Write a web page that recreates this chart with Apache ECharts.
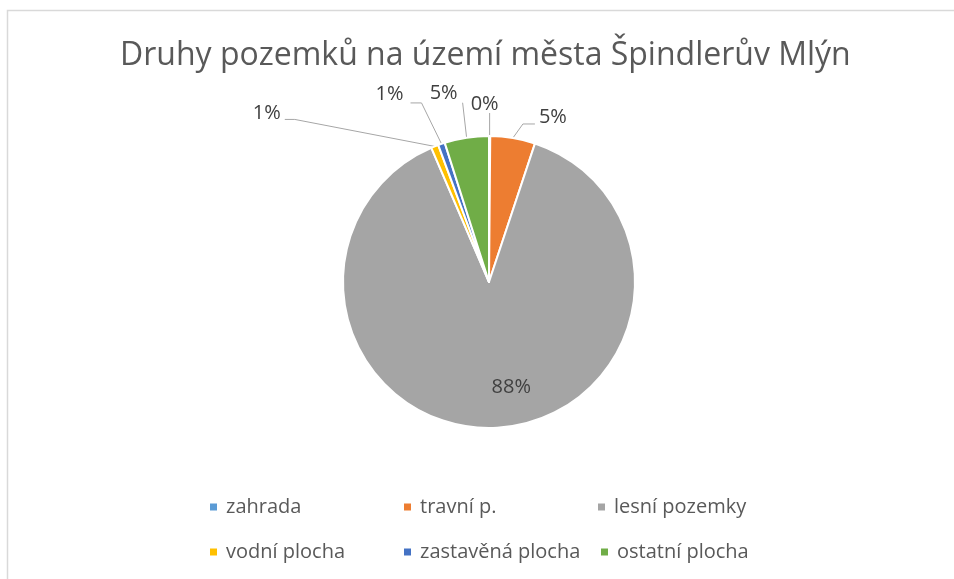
<!DOCTYPE html>
<html>
<head>
<meta charset="utf-8">
<script src="https://cdn.jsdelivr.net/npm/echarts@6/dist/echarts.min.js"></script>
<style>
  html, body { margin: 0; padding: 0; background: #fff; }
  #chart { width: 954px; height: 579px; }
</style>
</head>
<body>
<div id="chart"></div>
<script>
// Land use categories and their areas (ha)
const categories = ['zahrada', 'travní p.', 'lesní pozemky', 'vodní plocha', 'zastavěná plocha', 'ostatní plocha'];
const areas = [10, 365, 6500, 60, 55, 360];
const sliceColors = ['#5B9BD5', '#ED7D31', '#A5A5A5', '#FFC000', '#4472C4', '#70AD47'];
const titleText = 'Druhy pozemků na území města Špindlerův Mlýn';

const FONT = '"Open Sans", Lato, sans-serif';
const chart = echarts.init(document.getElementById('chart'), null, { renderer: 'canvas' });

// Leader-line and label placement relative to the slice edge point
// bend/end: offsets of the leader line; label: offset of text anchor
const outsideLabels = {
  0: { bend: [0, -11], end: [0, -23], label: [-5, -32], align: 'center' },
  1: { bend: [10, -14], end: [22, -14], label: [26, -21], align: 'left' },
  3: { bend: [-140, -27], end: [-150, -27], label: [-154, -33], align: 'right' },
  4: { bend: [-20, -41], end: [-31, -41], label: [-38, -50], align: 'right' },
  5: { bend: [-4, -35], end: [-4, -35], label: [-23, -44], align: 'center' }
};

// Legend grid: one legend block per category
const legendCols = [208, 402, 596];
const legendRows = [497, 542];
const legends = categories.map(function (name, i) {
  const col = i % 3, row = Math.floor(i / 3);
  return {
    data: [name],
    left: (i === 5 ? 599 : legendCols[col]),
    top: legendRows[row],
    orient: 'horizontal',
    icon: 'rect',
    itemWidth: 9,
    itemHeight: 9,
    padding: 0,
    selectedMode: false,
    textStyle: { color: '#595959', fontSize: 20, fontFamily: FONT, padding: [0, 0, 0, 3] }
  };
});

chart.setOption({
  animation: false,
  color: sliceColors,
  title: {
    text: titleText,
    left: 120,
    top: 40,
    padding: 0,
    textStyle: { color: '#595959', fontSize: 32, fontWeight: 'normal', fontFamily: FONT }
  },
  legend: legends,
  graphic: [{
    type: 'rect',
    shape: { x: 7.5, y: 10.5, width: 1000, height: 600 },
    style: { fill: 'none', stroke: '#d9d9d9', lineWidth: 1.5 },
    silent: true,
    z: -1
  }],
  series: [{
    type: 'pie',
    center: [489, 282],
    radius: 146,
    startAngle: 90,
    clockwise: true,
    percentPrecision: 0,
    avoidLabelOverlap: false,
    itemStyle: { borderColor: '#ffffff', borderWidth: 2 },
    label: {
      show: true,
      formatter: '{d}%',
      color: '#404040',
      fontSize: 20,
      fontFamily: FONT
    },
    labelLine: {
      show: true,
      length: 15,
      length2: 10,
      lineStyle: { color: '#A6A6A6', width: 1 }
    },
    labelLayout: function (p) {
      const cfg = outsideLabels[p.dataIndex];
      if (!cfg) {
        // value label inside the large slice
        return { dx: 19, dy: 29 };
      }
      const e = p.labelLinePoints[0];
      return {
        x: e[0] + cfg.label[0],
        y: e[1] + cfg.label[1],
        align: cfg.align,
        verticalAlign: 'middle',
        labelLinePoints: [
          [e[0], e[1]],
          [e[0] + cfg.bend[0], e[1] + cfg.bend[1]],
          [e[0] + cfg.end[0], e[1] + cfg.end[1]]
        ]
      };
    },
    data: categories.map(function (name, i) {
      const item = { name: name, value: areas[i] };
      if (i === 2) {
        item.label = { position: 'inside' };
        item.labelLine = { show: false };
      }
      return item;
    })
  }]
});
</script>
</body>
</html>
